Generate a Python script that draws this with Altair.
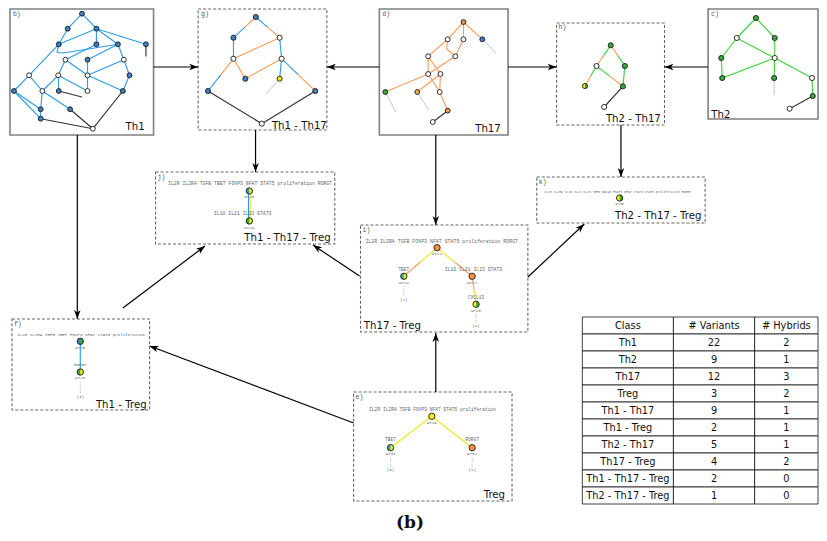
import math
import altair as alt
import pandas as pd

# ---------------- data ----------------
# panel boxes (image pixel coordinates of the reference)
box_name   = ["b", "g", "d", "h", "c", "j", "k", "i", "f", "e"]
box_left   = [10, 200, 383, 562, 715, 157, 542, 364, 12, 357]
box_right  = [155, 330, 513, 671, 826, 338, 712, 533, 151, 517]
box_top    = [7, 7, 7, 21, 7, 170, 175, 223, 317, 390]
box_bottom = [133, 128, 133, 123, 117, 242, 221, 330, 408, 499]
box_dashed = [False, True, False, True, False, True, True, True, True, True]
letter_x   = [13, 203, 386, 564, 718, 159, 544, 366, 14, 359]
letter_y   = [11.5, 11.5, 11.5, 25, 11.5, 175, 180, 228, 322, 395]

box_title   = ["Th1", "Th1 - Th17", "Th17", "Th2 - Th17", "Th2", "Th1 - Th17 - Treg",
               "Th2 - Th17 - Treg", "Th17 - Treg", "Th1 - Treg", "Treg"]
title_x     = [146, 330, 505.7, 667.3, 718.3, 334, 708.3, 367.3, 148, 510]
title_y     = [128.3, 126.7, 130, 120, 115.7, 239, 216.7, 326.7, 406, 495.7]
title_align = ["right", "right", "right", "right", "left", "right", "right", "left", "right", "right"]

# arrows: start -> tip
arrow_x1 = [155, 383, 513, 715, 258, 440, 627, 78, 363, 124, 533, 357, 440]
arrow_y1 = [65, 65, 65, 65, 128, 133, 123, 133, 274, 306, 275, 421, 390]
arrow_x2 = [200, 330, 562, 671, 258, 440, 627, 78, 316, 207, 590, 151, 440]
arrow_y2 = [65, 65, 65, 65, 170, 223, 175, 317, 243, 244, 222, 344, 331]

# node fills: B blue, W white, G green, O orange, Y yellow, T teal, A amber; "L/R" = two halves
fill_hex = {"B": "#3d7fc1", "W": "#ffffff", "G": "#3aa83a", "O": "#f7943a",
            "Y": "#f3ee10", "T": "#3ba5a8", "A": "#e9b040"}
edge_hex = {"b": "#2e9be8", "o": "#ff9d5c", "g": "#3fd13f", "y": "#eeea1a",
            "k": "#333333", "s": "#a0a0a0"}

# Th1 (b)
nodes_b = [("b1", 82.7, 11.7, "B"), ("b2", 68.3, 26.7, "B"), ("b3", 97.3, 26.7, "B"),
           ("b4", 59.3, 42.3, "B"), ("b5", 97.3, 42.3, "B"), ("b6", 119, 42.3, "B"),
           ("b7", 147.3, 42.3, "B"), ("b9", 66, 57.7, "W"), ("b10", 88.3, 57.7, "B"),
           ("b11", 125, 57.7, "W"), ("b12", 29.3, 73.3, "W"), ("b13", 58.7, 73.3, "W"),
           ("b14", 88.3, 73.3, "W"), ("b15", 130.7, 73.3, "B"), ("b16", 14, 89, "B"),
           ("b17", 42.7, 89, "W"), ("b18", 59.3, 89, "B"), ("b19", 88.3, 89, "W"),
           ("b20", 124, 89, "B"), ("b21", 41, 107.3, "B"), ("b22", 70.7, 107.3, "B"),
           ("b23", 41, 116.7, "B"), ("b24", 93.7, 126.7, "W")]
edges_b = [("b1", "b2", "b", "b"), ("b1", "b3", "b", "b"), ("b2", "b4", "b", "b"),
           ("b3", "b4", "b", "b"), ("b3", "b5", "b", "b"), ("b3", "b6", "b", "b"),
           ("b3", "b7", "b", "b"), ("b4", "b12", "b", "b"), ("b4", "bw1", "b", "b"),
           ("bw1", "bw2", "b", "b"), ("bw2", "b6", "b", "b"), ("b5", "b9", "b", "b"),
           ("b6", "b10", "b", "b"), ("b6", "b11", "b", "b"), ("b9", "b13", "b", "b"),
           ("b9", "b14", "b", "b"), ("b10", "b14", "b", "b"), ("b11", "b14", "b", "b"),
           ("b11", "b15", "b", "b"), ("b15", "b20", "b", "b"), ("b12", "b16", "b", "b"),
           ("b12", "b17", "b", "b"), ("b13", "b17", "b", "b"), ("b13", "b18", "b", "b"),
           ("b13", "b19", "b", "b"), ("b14", "b19", "b", "b"), ("b14", "b20", "b", "b"),
           ("b16", "b21", "b", "b"), ("b16", "b23", "b", "b"), ("b17", "b21", "b", "b"),
           ("b17", "b22", "b", "b"), ("b21", "b23", "b", "b"),
           ("b23", "b24", "k", "k"), ("b22", "b24", "k", "k"), ("b20", "b24", "k", "k"),
           ("b18", "bt2", "k", "k"), ("b7", "bt1", "k", "k")]

# Th1 - Th17 (g)
nodes_g = [("g1", 258.3, 15, "B"), ("g2", 235.7, 35.7, "B"), ("g3", 282.3, 35.7, "W"),
           ("g4", 235.7, 56.7, "W"), ("g5", 284.3, 56.7, "W"), ("g6", 247.7, 76.7, "B"),
           ("g7", 282.3, 76.7, "Y"), ("g8", 210, 89, "B"), ("g9", 318.3, 89, "B"),
           ("g10", 264.3, 121.7, "W")]
edges_g = [("g1", "g2", "o", "b"), ("g1", "g3", "b", "o"), ("g2", "g4", "b", "b"),
           ("g3", "g4", "o", "o"), ("g3", "g5", "b", "b"), ("g4", "g6", "o", "o"),
           ("g5", "g6", "o", "o"), ("g4", "g8", "o", "b"), ("g5", "g7", "b", "b"),
           ("g5", "g9", "b", "o"), ("g8", "g10", "k", "k"), ("g9", "g10", "k", "k"),
           ("g7", "gt1", "s", "s")]

# Th17 (d)
nodes_d = [("d1", 468, 20, "O"), ("d2", 452, 37.3, "W"), ("d3", 468, 37.3, "W"),
           ("d4", 487, 37.3, "B"), ("d5", 432.3, 54.3, "W"), ("d6", 459.7, 54.3, "W"),
           ("d7", 432.3, 72, "W"), ("d8", 444.7, 72, "W"), ("d9", 389, 90, "G"),
           ("d10", 421.3, 90, "A"), ("d11", 444, 90, "W"), ("d12", 452, 108.7, "O"),
           ("d13", 437, 120, "W")]
edges_d = [("d1", "d2", "o", "o"), ("d1", "d3", "o", "o"), ("d1", "d4", "o", "o"),
           ("d2", "d5", "o", "o"), ("d2", "dw1", "o", "o"), ("dw1", "d6", "o", "o"),
           ("d3", "d6", "o", "o"), ("d5", "d7", "o", "o"), ("d6", "d7", "o", "o"),
           ("d7", "d9", "o", "o"), ("d5", "d8", "o", "o"), ("d7", "d11", "o", "o"),
           ("d8", "d11", "o", "o"), ("d8", "d10", "o", "o"), ("d11", "d12", "o", "o"),
           ("d12", "d13", "k", "k"), ("d4", "dt1", "s", "s"), ("d9", "dt2", "s", "s"),
           ("d10", "dt3", "s", "s")]

# Th2 - Th17 (h)
nodes_h = [("h1", 616.7, 43.3, "G"), ("h2", 602.3, 64, "W"), ("h3", 631, 64, "G"),
           ("h4", 590.7, 84, "Y/G"), ("h5", 629, 84.3, "G"), ("h6", 610, 105, "W")]
edges_h = [("h1", "h2", "g", "o"), ("h1", "h3", "o", "g"), ("h2", "h4", "g", "o"),
           ("h2", "h5", "g", "o"), ("h3", "h5", "g", "g"), ("h5", "h6", "k", "k")]

# Th2 (c)
nodes_c = [("c1", 763.3, 16, "G"), ("c2", 744, 36, "W"), ("c3", 782.3, 36, "G"),
           ("c4", 782.3, 56, "W"), ("c5", 728.3, 56, "G"), ("c6", 729.3, 76, "G"),
           ("c7", 781.7, 76, "G"), ("c8", 820, 76, "W"), ("c9", 820.7, 94, "G"),
           ("c10", 797.3, 106.7, "W")]
edges_c = [("c1", "c2", "g", "g"), ("c1", "c3", "g", "g"), ("c2", "c5", "g", "g"),
           ("c2", "c4", "g", "g"), ("c3", "c4", "g", "g"), ("c4", "c6", "g", "g"),
           ("c4", "c7", "g", "g"), ("c4", "c8", "g", "g"), ("c5", "c6", "g", "g"),
           ("c8", "c9", "g", "g"), ("c9", "c10", "k", "k"), ("c7", "ct1", "s", "s")]

# small panels j, i, f, e, k
nodes_small = [("j1", 251.7, 189, "T/Y"), ("j2", 251.7, 219, "G/Y"),
               ("i1", 441.3, 245.7, "O"), ("i2", 407.7, 274.3, "T/Y"),
               ("i3", 476.7, 274.3, "O"), ("i4", 480.7, 302.3, "Y/G"),
               ("f1", 81, 339.3, "B/G"), ("f2", 81, 370, "G/Y"),
               ("e1", 436, 414.3, "Y"), ("e2", 394.3, 445.7, "T/Y"),
               ("e3", 476.7, 445.7, "O"), ("k1", 625.7, 196, "Y/G")]
edges_small = [("jb1", "jb2", "b", "b"), ("jy1", "jy2", "y", "y"),
               ("i1", "i2", "y", "o"), ("i1", "i3", "y", "o"), ("i3", "i4", "o", "y"),
               ("f1", "f2", "b", "b"), ("e1", "e2", "y", "y"), ("e1", "e3", "y", "y")]
dotted_small = [("it0", "it1"), ("it2", "it3"), ("ft0", "ft1"), ("et0", "et1"), ("et2", "et3")]

# helper points (curve bends, leads to labels)
aux_points = {"bw1": (57.5, 50.5), "bw2": (64, 51), "bt1": (147.3, 54.5), "bt2": (82.7, 95),
              "gt1": (269, 91.7), "dw1": (451, 47), "dt1": (500.7, 50.7), "dt2": (399.7, 110),
              "dt3": (433, 108.3), "ct1": (781.7, 93),
              "jb1": (250.9, 191), "jb2": (250.9, 217), "jy1": (252.5, 191), "jy2": (252.5, 217),
              "it0": (407.7, 284), "it1": (407.7, 294), "it2": (480.7, 312), "it3": (480.7, 320.5),
              "ft0": (81, 380), "ft1": (81, 391.5), "et0": (394.3, 456), "et1": (394.3, 465),
              "et2": (476.7, 456), "et3": (476.7, 465)}

# small monospace labels in panels j, i, f, e, k
mono_text = [
    (252.5, 182.3, "IL2R IL2RA TGFB TBET FOXP3 NFAT STAT5 proliferation RORGT", 4.8),
    (251.7, 194.8, "WT26", 4.2), (245, 212.3, "IL10 IL21 IL23 STAT3", 4.8), (251.7, 225.7, "WT29", 4.2),
    (446, 240, "IL2R IL2RA TGFB FOXP3 NFAT STAT5 proliferation RORGT", 4.9),
    (441.3, 251.9, "WT22", 4.2), (407.7, 268.4, "TBET", 4.5), (407.7, 280.5, "WT24", 4.2),
    (478, 268.4, "IL10 IL21 IL23 STAT3", 4.8), (476.7, 280.5, "WT27", 4.2),
    (480.7, 296, "CXCL13", 4.5), (480.7, 308.5, "WT28", 4.2),
    (407.7, 297.5, "(2)", 4.2), (480.7, 324, "(4)", 4.2),
    (82, 332.7, "IL2R IL2RA TGFB TBET FOXP3 NFAT STAT5 proliferation", 4.2),
    (81, 345.5, "WT25", 4.2), (81, 362.7, "RORGT", 4.2), (81, 376, "WT26", 4.2), (81, 395, "(3)", 4.2),
    (436.7, 407.7, "IL2R IL2RA TGFB FOXP3 NFAT STAT5 proliferation", 4.6),
    (436, 420.5, "WT19", 4.2), (394.3, 438.3, "TBET", 4.5), (394.3, 451.7, "WT31", 4.2),
    (476.7, 438.3, "RORGT", 4.5), (476.7, 451.7, "WT32", 4.2),
    (394.3, 468.3, "(6)", 4.2), (476.7, 468.3, "(4)", 4.2),
    (623.7, 190, "IL2R IL2RA IL10 IL21 IL23 TGFB GATA3 FOXP3 NFAT STAT3 STAT5 proliferation RORGT", 3.1),
    (625.7, 202, "WT30", 3.4)]

# table
table_header   = ["Class", "# Variants", "# Hybrids"]
table_class    = ["Th1", "Th2", "Th17", "Treg", "Th1 - Th17", "Th1 - Treg", "Th2 - Th17",
                  "Th17 - Treg", "Th1 - Th17 - Treg", "Th2 - Th17 - Treg"]
table_variants = [22, 9, 12, 3, 9, 2, 5, 4, 2, 1]
table_hybrids  = [2, 1, 3, 2, 1, 1, 1, 2, 0, 0]
table_col_edges = [588, 680, 762, 826]
table_top, table_row_h = 315, 17

caption = "(b)"
caption_x, caption_y = 414, 521

# ---------------- build tables ----------------
XD = [8, 827]
YD = [6, 531]
W, H = 811, 525
SX = W / (XD[1] - XD[0])
SY = H / (YD[1] - YD[0])


def xenc(f="x"):
    return alt.X(f"{f}:Q", scale=alt.Scale(domain=XD, nice=False, zero=False), axis=None)


def yenc(f="y"):
    return alt.Y(f"{f}:Q", scale=alt.Scale(domain=YD, nice=False, zero=False, reverse=True), axis=None)


coords = dict(aux_points)
all_nodes = []
for lst, sz in [(nodes_b, 24), (nodes_g, 26), (nodes_d, 24), (nodes_h, 26), (nodes_c, 26),
                (nodes_small, 40)]:
    for nid, x, y, f in lst:
        coords[nid] = (x, y)
        parts = f.split("/")
        all_nodes.append({"x": x, "y": y, "left": fill_hex[parts[0]],
                          "right": fill_hex[parts[-1]], "split": len(parts) > 1, "s": sz})
nodes_df = pd.DataFrame(all_nodes)
split_df = nodes_df[nodes_df["split"]]

seg_rows = []
for lst in [edges_b, edges_g, edges_d, edges_h, edges_c, edges_small]:
    for a, b, c1, c2 in lst:
        (xa, ya), (xb, yb) = coords[a], coords[b]
        if c1 == c2:
            seg_rows.append({"x": xa, "y": ya, "x2": xb, "y2": yb, "c": edge_hex[c1]})
        else:
            xm, ym = (xa + xb) / 2, (ya + yb) / 2
            seg_rows.append({"x": xa, "y": ya, "x2": xm, "y2": ym, "c": edge_hex[c1]})
            seg_rows.append({"x": xm, "y": ym, "x2": xb, "y2": yb, "c": edge_hex[c2]})
seg_df = pd.DataFrame(seg_rows)
solid_seg = seg_df[seg_df["c"] != edge_hex["s"]]
gray_seg = seg_df[seg_df["c"] == edge_hex["s"]]

dot_df = pd.DataFrame([{"x": coords[a][0], "y": coords[a][1], "x2": coords[b][0], "y2": coords[b][1]}
                       for a, b in dotted_small])

box_df = pd.DataFrame({"x": box_left, "x2": box_right, "y": box_top, "y2": box_bottom,
                       "dashed": box_dashed})
arrow_df = pd.DataFrame({"x": arrow_x1, "y": arrow_y1, "x2": arrow_x2, "y2": arrow_y2})
arrow_df["ang"] = [math.degrees(math.atan2((y2 - y1) * SY, (x2 - x1) * SX)) % 360
                   for x1, y1, x2, y2 in zip(arrow_x1, arrow_y1, arrow_x2, arrow_y2)]
head_df = pd.DataFrame({"x": arrow_x2, "y": arrow_y2, "ang": arrow_df["ang"]})

letters_df = pd.DataFrame({"x": letter_x, "y": letter_y, "t": [n + ")" for n in box_name]})
titles_df = pd.DataFrame({"x": title_x, "y": title_y, "t": box_title, "a": title_align})
mono_df = pd.DataFrame(mono_text, columns=["x", "y", "t", "fs"])

cell_rows, cell_text = [], []
rows = [table_header] + [[c, str(v), str(h)] for c, v, h in zip(table_class, table_variants, table_hybrids)]
for r, row in enumerate(rows):
    y0 = table_top + r * table_row_h
    for ci, val in enumerate(row):
        x0, x1 = table_col_edges[ci], table_col_edges[ci + 1]
        cell_rows.append({"x": x0, "x2": x1, "y": y0, "y2": y0 + table_row_h})
        cell_text.append({"x": (x0 + x1) / 2, "y": y0 + table_row_h / 2 + 0.5, "t": val})
cell_df = pd.DataFrame(cell_rows)
ctext_df = pd.DataFrame(cell_text)
cap_df = pd.DataFrame({"x": [caption_x], "y": [caption_y], "t": [caption]})

# ---------------- layers ----------------
boxes_solid = alt.Chart(box_df[~box_df["dashed"]]).mark_rect(
    fill="white", stroke="#808080", strokeWidth=1.6).encode(
    x=xenc(), x2="x2:Q", y=yenc(), y2="y2:Q")
boxes_dash = alt.Chart(box_df[box_df["dashed"]]).mark_rect(
    fill="white", stroke="#666666", strokeWidth=1.1, strokeDash=[3, 2]).encode(
    x=xenc(), x2="x2:Q", y=yenc(), y2="y2:Q")

arrow_lines = alt.Chart(arrow_df).mark_rule(color="black", strokeWidth=1.2).encode(
    x=xenc(), x2="x2:Q", y=yenc(), y2="y2:Q")
arrow_heads = alt.Chart(head_df).mark_point(
    shape="M0,0L-1.7,-0.62L-1.25,0L-1.7,0.62Z", filled=True, color="black",
    size=110, opacity=1).encode(
    x=xenc(), y=yenc(), angle=alt.Angle("ang:Q", scale=None))

edges = alt.Chart(solid_seg).mark_rule(strokeWidth=1.15).encode(
    x=xenc(), x2="x2:Q", y=yenc(), y2="y2:Q", color=alt.Color("c:N", scale=None))
gray_edges = alt.Chart(gray_seg).mark_rule(strokeWidth=0.6).encode(
    x=xenc(), x2="x2:Q", y=yenc(), y2="y2:Q", color=alt.Color("c:N", scale=None))
dots = alt.Chart(dot_df).mark_rule(strokeWidth=0.7, color="#999999", strokeDash=[1, 1]).encode(
    x=xenc(), x2="x2:Q", y=yenc(), y2="y2:Q")

node_fill = alt.Chart(nodes_df).mark_point(shape="circle", filled=True, opacity=1, strokeWidth=0).encode(
    x=xenc(), y=yenc(), fill=alt.Fill("left:N", scale=None), size=alt.Size("s:Q", scale=None))
node_half = alt.Chart(split_df).mark_point(shape="M0,-1A1,1 0 0,1 0,1Z", filled=True, opacity=1,
                                           strokeWidth=0).encode(
    x=xenc(), y=yenc(), fill=alt.Fill("right:N", scale=None), size=alt.Size("s:Q", scale=None))
node_ring = alt.Chart(nodes_df).mark_point(shape="circle", filled=False, color="#1a1a1a",
                                           strokeWidth=0.9, opacity=1).encode(
    x=xenc(), y=yenc(), size=alt.Size("s:Q", scale=None))

letters = alt.Chart(letters_df).mark_text(font="Liberation Mono", fontSize=6.5, color="#555555",
                                          align="left", baseline="middle").encode(
    x=xenc(), y=yenc(), text="t:N")
mono = alt.Chart(mono_df).mark_text(font="Liberation Mono", color="#666666", align="center",
                                    baseline="middle").encode(
    x=xenc(), y=yenc(), text="t:N", size=alt.Size("fs:Q", scale=None))
titles_r = alt.Chart(titles_df[titles_df["a"] == "right"]).mark_text(
    font="DejaVu Sans", fontSize=10.2, color="#111111", align="right", baseline="alphabetic").encode(
    x=xenc(), y=yenc(), text="t:N")
titles_l = alt.Chart(titles_df[titles_df["a"] == "left"]).mark_text(
    font="DejaVu Sans", fontSize=10.2, color="#111111", align="left", baseline="alphabetic").encode(
    x=xenc(), y=yenc(), text="t:N")

cells = alt.Chart(cell_df).mark_rect(fill="white", stroke="#111111", strokeWidth=0.8).encode(
    x=xenc(), x2="x2:Q", y=yenc(), y2="y2:Q")
cell_txt = alt.Chart(ctext_df).mark_text(font="DejaVu Sans", fontSize=9.8, color="#111111",
                                         align="center", baseline="middle").encode(
    x=xenc(), y=yenc(), text="t:N")
cap = alt.Chart(cap_df).mark_text(font="DejaVu Serif", fontSize=17, fontWeight="bold",
                                  color="#111111", align="center", baseline="middle").encode(
    x=xenc(), y=yenc(), text="t:N")

chart = alt.layer(
    boxes_solid, boxes_dash, arrow_lines, arrow_heads, gray_edges, dots, edges,
    node_fill, node_half, node_ring, letters, mono, titles_r, titles_l, cells, cell_txt, cap
).properties(
    width=W, height=H, padding=0, background="white",
    autosize=alt.AutoSizeParams(type="none")
).configure_view(stroke=None)

chart.save("out.html", embed_options={"renderer": "svg", "actions": False})
